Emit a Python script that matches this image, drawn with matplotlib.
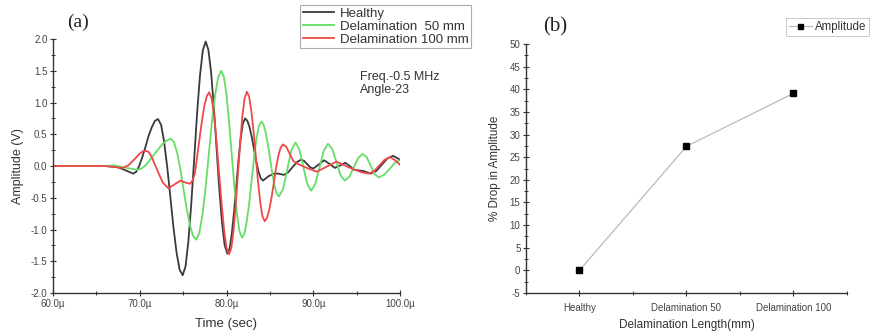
import numpy as np
import matplotlib
matplotlib.use("Agg")
import matplotlib.pyplot as plt
from matplotlib.ticker import MultipleLocator, FixedLocator, FormatStrFormatter

plt.rcParams['font.family'] = ['Liberation Sans', 'DejaVu Sans']
plt.rcParams['axes.unicode_minus'] = False

# ---- panel (a): waveforms (time in microseconds, amplitude in V) ----
t_healthy = [60, 66, 67.5, 68.4, 69.25, 69.61, 69.96, 70.32, 70.68, 71.03, 71.39, 71.74, 72.1,
             72.46, 72.81, 73.17, 73.53, 73.88, 74.24, 74.59, 74.95,
             75.28, 75.61, 75.94, 76.28, 76.61, 76.94, 77.27, 77.6,
             77.91, 78.23, 78.54, 78.85, 79.16, 79.48, 79.79, 80.1,
             80.36, 80.61, 80.87, 81.13, 81.38, 81.64, 81.89, 82.15,
             82.41, 82.66, 82.92, 83.18, 83.43, 83.69, 83.94, 84.2,
             84.85, 85.5, 86.0, 86.6, 87.1, 87.6, 88.1, 88.6, 88.95, 89.3, 89.65, 90.0,
             90.6, 91.25, 91.9, 92.5, 93.1, 93.7, 94.2, 94.7, 95.8, 96.6, 97.25, 97.9,
             98.55, 99.2, 100]
a_healthy = [0, 0, -0.02, -0.07, -0.12, -0.09, 0.01, 0.15, 0.31, 0.48, 0.61, 0.71, 0.74,
             0.65, 0.38, -0.02, -0.49, -0.96, -1.36, -1.63, -1.72,
             -1.58, -1.18, -0.59, 0.12, 0.83, 1.42, 1.82, 1.96,
             1.83, 1.47, 0.93, 0.29, -0.35, -0.89, -1.25, -1.38,
             -1.30, -1.07, -0.72, -0.32, 0.09, 0.44, 0.67, 0.75,
             0.71, 0.61, 0.45, 0.26, 0.07, -0.09, -0.19, -0.23,
             -0.16, -0.12, -0.12, -0.14, -0.1, -0.02, 0.06, 0.10, 0.08, 0.03, -0.02, -0.04,
             0.02, 0.09, 0.03, -0.03, 0.01, 0.05, 0.0, -0.06, -0.08, -0.12, -0.08, 0.02,
             0.12, 0.16, 0.10]

t_d50 = [60, 66, 67, 68.5, 69.7, 70.19, 70.68, 71.65, 72.63, 73.11, 73.6,
         73.96, 74.33, 74.69, 75.05, 75.41, 75.78, 76.14, 76.5,
         76.86, 77.23, 77.59, 77.95, 78.31, 78.68, 79.04, 79.4,
         79.7, 80.0, 80.3, 80.6, 80.9, 81.2, 81.5, 81.8,
         82.08, 82.35, 82.63, 82.9, 83.18, 83.45, 83.73, 84.0,
         84.26, 84.51, 84.77, 85.03, 85.28, 85.54, 85.79, 86.05,
         86.53, 87.0, 87.48, 87.95, 88.4, 88.85, 89.3, 89.75, 90.24, 90.73, 91.21, 91.7,
         92.19, 92.68, 93.16, 93.65, 94.16, 94.68, 95.19, 95.7, 96.16, 96.63, 97.09, 97.55,
         98.16, 98.78, 99.39, 100]
a_d50 = [0, 0, 0.01, -0.03, -0.06, -0.04, 0.01, 0.18, 0.35, 0.40, 0.43,
         0.37, 0.2, -0.06, -0.37, -0.67, -0.93, -1.10, -1.16,
         -1.06, -0.77, -0.34, 0.17, 0.68, 1.11, 1.40, 1.50,
         1.40, 1.12, 0.69, 0.19, -0.32, -0.75, -1.03, -1.13,
         -1.06, -0.86, -0.57, -0.22, 0.14, 0.43, 0.63, 0.70,
         0.66, 0.53, 0.34, 0.11, -0.12, -0.31, -0.44, -0.48,
         -0.36, -0.06, 0.25, 0.37, 0.26, -0.01, -0.28, -0.39, -0.28, -0.02, 0.24, 0.35,
         0.27, 0.06, -0.15, -0.23, -0.17, -0.02, 0.13, 0.19, 0.14, 0.0, -0.13, -0.18,
         -0.14, -0.05, 0.05, 0.09]

t_d100 = [60, 66, 68, 68.68, 69.35, 70.03, 70.36, 70.7, 71.03, 71.35, 72.0, 72.65, 73.3,
          74.0, 74.7, 75.25, 75.8,
          76.08, 76.35, 76.63, 76.9, 77.18, 77.45, 77.73, 78.0,
          78.29, 78.58, 78.86, 79.15, 79.44, 79.73, 80.01, 80.3,
          80.56, 80.81, 81.07, 81.33, 81.58, 81.84, 82.09, 82.35,
          82.61, 82.86, 83.12, 83.38, 83.63, 83.89, 84.14, 84.4,
          84.66, 84.93, 85.19, 85.45, 85.71, 85.98, 86.24, 86.5,
          86.9, 87.3, 87.7, 88.1, 89.25, 90.4, 91.55, 92.7, 93.9, 94.8, 95.6, 96.4,
          97.01, 97.63, 98.24, 98.85, 99.45, 100]
a_d100 = [0, 0, -0.03, 0.01, 0.1, 0.2, 0.23, 0.24, 0.22, 0.15, -0.06, -0.26, -0.35,
          -0.29, -0.23, -0.26, -0.28,
          -0.23, -0.12, 0.16, 0.44, 0.72, 0.95, 1.1, 1.16,
          1.06, 0.79, 0.37, -0.12, -0.6, -1.02, -1.29, -1.39,
          -1.29, -1.02, -0.6, -0.11, 0.38, 0.8, 1.07, 1.17,
          1.09, 0.87, 0.54, 0.15, -0.24, -0.57, -0.79, -0.87,
          -0.82, -0.69, -0.5, -0.27, -0.03, 0.16, 0.29, 0.34,
          0.3, 0.19, 0.08, 0.04, -0.03, -0.09, -0.01, 0.07, -0.01, -0.06, -0.1, -0.12,
          -0.08, 0.01, 0.1, 0.14, 0.09, 0.02]

x_ticks_a = [60, 70, 80, 90, 100]
x_ticklabels_a = ['60.0\u00b5', '70.0\u00b5', '80.0\u00b5', '90.0\u00b5', '100.0\u00b5']

# ---- panel (b): % drop in amplitude ----
categories = ['Healthy', 'Delamination 50', 'Delamination 100']
drop_pct = [0, 27.4, 39.1]

fig = plt.figure(figsize=(8.78, 3.35), dpi=100)

tick_col = '#444444'


def style_axes(ax):
    ax.spines['top'].set_visible(False)
    ax.spines['right'].set_visible(False)
    for s in ('left', 'bottom'):
        ax.spines[s].set_color('#333333')
        ax.spines[s].set_linewidth(1.0)
    ax.tick_params(which='major', direction='inout', length=5, width=0.8,
                   colors='#333333', labelsize=7, labelcolor=tick_col, pad=1.5)
    ax.tick_params(which='minor', direction='inout', length=3, width=0.7, colors='#333333')


# left panel
ax1 = fig.add_axes([53 / 878, 42 / 335, 347 / 878, 254 / 335])
ax1.plot(t_healthy, a_healthy, color='#3a3a3a', lw=1.3, label='Healthy')
ax1.plot(t_d50, a_d50, color='#66dd66', lw=1.3, label='Delamination  50 mm')
ax1.plot(t_d100, a_d100, color='#f04848', lw=1.3, label='Delamination 100 mm')
ax1.set_xlim(60, 100)
ax1.set_ylim(-2.0, 2.0)
ax1.xaxis.set_major_locator(FixedLocator(x_ticks_a))
ax1.set_xticklabels(x_ticklabels_a)
ax1.xaxis.set_minor_locator(MultipleLocator(5))
ax1.yaxis.set_major_locator(MultipleLocator(0.5))
ax1.yaxis.set_minor_locator(MultipleLocator(0.25))
ax1.yaxis.set_major_formatter(FormatStrFormatter('%.1f'))
style_axes(ax1)
ax1.set_xlabel('Time (sec)', fontsize=9.5, color='#333333', labelpad=7)
ax1.set_ylabel('Amplitude (V)', fontsize=9, color='#333333', labelpad=5)
leg1 = ax1.legend(loc='upper left', bbox_to_anchor=(247 / 347, 1 + 34 / 254),
                  fontsize=9.5, frameon=True, fancybox=False, handlelength=2.4,
                  handletextpad=0.4, borderpad=0.2, labelspacing=0.05, borderaxespad=0)
leg1.get_frame().set_edgecolor('#999999')
leg1.get_frame().set_linewidth(0.8)
for txt in leg1.get_texts():
    txt.set_color('#333333')
ax1.text(0.886, 0.875, 'Freq.-0.5 MHz\nAngle-23', transform=ax1.transAxes,
         fontsize=9, color='#333333', va='top', ha='left', linespacing=1.15)
fig.text(78 / 878, 1 - 22 / 335, '(a)', fontsize=14, family='Liberation Serif',
         ha='center', va='center', color='#222222')

# right panel
x_pos = np.arange(1, len(categories) + 1)
ax2 = fig.add_axes([526 / 878, 42 / 335, 321 / 878, 249 / 335])
ax2.plot(x_pos, drop_pct, color='#bbbbbb', lw=0.9, marker='s', markersize=4.5,
         markerfacecolor='black', markeredgecolor='black', label='Amplitude')
ax2.set_xlim(0.5, 3.5)
ax2.set_ylim(-5, 50)
ax2.set_xticks(x_pos)
ax2.set_xticklabels(categories)
ax2.xaxis.set_minor_locator(MultipleLocator(0.5))
ax2.yaxis.set_major_locator(MultipleLocator(5))
ax2.yaxis.set_minor_locator(MultipleLocator(2.5))
style_axes(ax2)
ax2.tick_params(axis='x', which='major', pad=5)
ax2.set_xlabel('Delamination Length(mm)', fontsize=8.5, color='#333333', labelpad=4)
ax2.set_ylabel('% Drop in Amplitude', fontsize=8.4, color='#333333', labelpad=6)
leg2 = ax2.legend(loc='upper left', bbox_to_anchor=(260 / 321, 1 + 26 / 249),
                  fontsize=8.3, frameon=True, fancybox=False, handlelength=2.0,
                  handletextpad=0.25, borderpad=0.25, borderaxespad=0, markerscale=0.8)
leg2.get_frame().set_edgecolor('#bbbbbb')
leg2.get_frame().set_linewidth(0.7)
for txt in leg2.get_texts():
    txt.set_color('#333333')
fig.text(555 / 878, 1 - 27 / 335, '(b)', fontsize=15, family='Liberation Serif',
         ha='center', va='center', color='#222222')

fig.savefig('out.png', dpi=100)
